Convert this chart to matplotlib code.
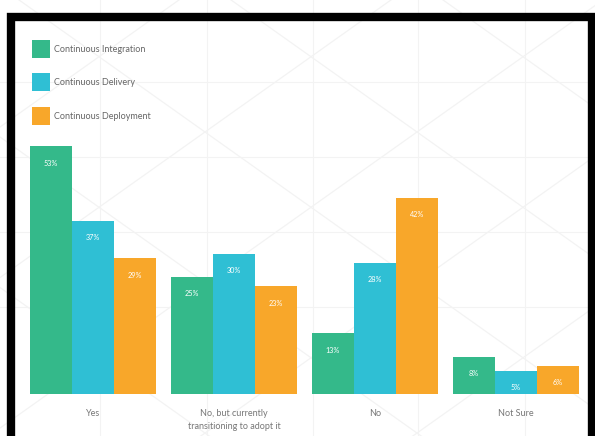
import matplotlib.pyplot as plt
import numpy as np
from matplotlib.patches import Rectangle

plt.rcParams['font.family'] = ['Lato', 'DejaVu Sans']

categories = ["Yes", "No, but currently\ntransitioning to adopt it", "No", "Not Sure"]
series_names = ["Continuous Integration", "Continuous Delivery", "Continuous Deployment"]
integration = [53, 25, 13, 8]
delivery = [37, 30, 28, 5]
deployment = [29, 23, 42, 6]
colors = ["#34b98a", "#2fbfd4", "#f8a72a"]

W, H = 595, 436
fig = plt.figure(figsize=(W / 100, H / 100), dpi=100)

# faint background pattern (pixel coords)
bg = fig.add_axes([0, 0, 1, 1], zorder=0)
bg.set_xlim(0, W); bg.set_ylim(H, 0); bg.axis('off')
lc = "#f3f3f3"
for x in [100, 207, 313, 418, 525]:
    bg.plot([x, x], [0, H], color=lc, lw=0.8)
for y in [82, 157, 232, 307]:
    bg.plot([0, W], [y, y], color=lc, lw=0.8)
xs = np.array([-400, 1000])
for x0 in range(-850, 1200, 212):
    bg.plot(xs, 132 - 0.71 * (xs - (207 + x0)), color=lc, lw=0.9)
    bg.plot(xs, 132 + 0.71 * (xs - (207 + x0)), color=lc, lw=0.9)

ax = fig.add_axes([22.5 / W, (H - 394) / H, 564 / W, 374 / H], zorder=1)
ax.patch.set_alpha(0)
x = np.arange(len(categories))
w = 0.298
all_series = [integration, delivery, deployment]
for i, (vals, name, c) in enumerate(zip(all_series, series_names, colors)):
    pos = x + (i - 1) * w
    bars = ax.bar(pos, vals, width=w, color=c, label=name)
    for b, v in zip(bars, vals):
        ax.text(b.get_x() + b.get_width() / 2, v - 3.6, f"{v}%", ha='center',
                va='center', color='white', fontsize=5.2)

ax.set_xlim(-0.5, 3.5)
ax.set_ylim(0, 80)
ax.set_yticks([])
ax.set_xticks(x)
ax.set_xticklabels(categories, fontsize=6.5, color='#777777', linespacing=1.5)
ax.tick_params(axis='x', length=0, pad=11)
for s in ax.spines.values():
    s.set_visible(False)

ax.legend(loc='upper left', bbox_to_anchor=(0.017, 0.9465), frameon=False,
          fontsize=6.5, labelcolor='#666666', handlelength=2.0,
          handleheight=2.7, labelspacing=1.7, handletextpad=0.4,
          borderpad=0, borderaxespad=0)

# black frame
fig.patches.append(Rectangle((11 / W, -2.5 / H), (W - 14) / W, 1 - 15 / H,
                             transform=fig.transFigure, fill=False,
                             edgecolor='black', lw=6, zorder=5))

fig.savefig("out.png", dpi=100)
